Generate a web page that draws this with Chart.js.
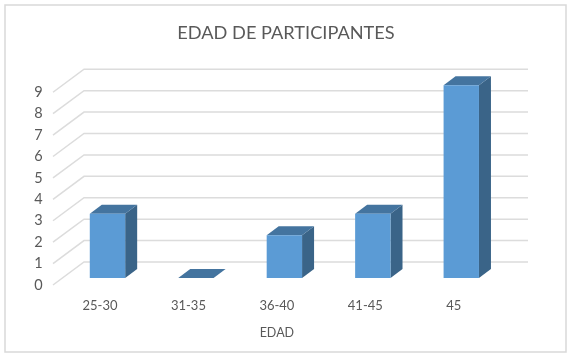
<!DOCTYPE html>
<html><head><meta charset="utf-8">
<style>html,body{margin:0;padding:0;background:#fff}canvas{display:block}</style>
<script src="https://cdn.jsdelivr.net/npm/chart.js@4"></script></head>
<body><canvas id="c" width="572" height="356"></canvas>
<script>
const categories = ['25-30','31-35','36-40','41-45','45'];
const participantes = [3,0,2,3,9];
const yTicks = [0,1,2,3,4,5,6,7,8,9];
const titleText = 'EDAD DE PARTICIPANTES';
const xTitle = 'EDAD';

const FLOOR_DX = 7.5, FLOOR_DY = 7;
const BAR_DX = 12, BAR_DY = 9;
const BACK_DX = 31, BACK_DY = 23;

const threeD = {
  id:'threeD',
  beforeDraw(chart){
    const c = chart.ctx; c.save();
    c.fillStyle='#fff'; c.fillRect(0,0,572,356);
    c.strokeStyle='#d9d9d9'; c.lineWidth=1.5;
    c.strokeRect(5,5,561,347);
    c.restore();
  },
  beforeDatasetsDraw(chart){
    const c = chart.ctx, y = chart.scales.y, a = chart.chartArea;
    c.save();
    c.strokeStyle='#dcdcdc'; c.lineWidth=1.5;
    const x0 = a.left-2.75, x1 = x0+BACK_DX, x2 = 528;
    yTicks.forEach(v=>{
      const p = y.getPixelForValue(v);
      c.beginPath(); c.moveTo(x0,p); c.lineTo(x1,p-BACK_DY); c.lineTo(x2,p-BACK_DY); c.stroke();
    });
    c.restore();
    c.save(); c.translate(FLOOR_DX,-FLOOR_DY);
    chart.getDatasetMeta(0).data.forEach(b=>{
      const l=b.x-b.width/2, r=b.x+b.width/2, t=b.y, bt=b.base;
      if (bt-t>0.5){
        c.fillStyle='#3a6488';
        c.beginPath(); c.moveTo(r,t); c.lineTo(r+BAR_DX,t-BAR_DY); c.lineTo(r+BAR_DX,bt-BAR_DY); c.lineTo(r,bt); c.closePath(); c.fill();
      }
      c.fillStyle='#44749f';
      c.beginPath(); c.moveTo(l,t); c.lineTo(l+BAR_DX,t-BAR_DY); c.lineTo(r+BAR_DX,t-BAR_DY); c.lineTo(r,t); c.closePath(); c.fill();
    });
    c.restore();
  },
  beforeDatasetDraw(chart){ chart.ctx.save(); chart.ctx.translate(FLOOR_DX,-FLOOR_DY); },
  afterDatasetDraw(chart){ chart.ctx.restore(); }
};

new Chart(document.getElementById('c'),{
  type:'bar',
  data:{labels:categories,datasets:[{data:participantes,backgroundColor:'#5b9bd5',borderWidth:0,barPercentage:0.4,categoryPercentage:1,clip:false}]},
  options:{
    responsive:false,animation:false,
    layout:{padding:{left:0,right:0,top:0,bottom:16}},
    plugins:{
      legend:{display:false},tooltip:{enabled:false},
      title:{display:true,text:titleText,color:'#595959',font:{family:'Lato',size:18.2,weight:'normal'},padding:{top:22,bottom:48.4}}
    },
    scales:{
      x:{grid:{display:false},border:{display:false},
        ticks:{color:'#595959',font:{family:'Lato',size:13},padding:5,maxRotation:0},
        title:{display:true,text:xTitle,color:'#595959',font:{family:'Lato',size:12.5},padding:{top:6,bottom:0}},
        afterFit(s){s.height=55;}
      },
      y:{min:0,max:9,grid:{display:false},border:{display:false},
        ticks:{stepSize:1,color:'#595959',font:{family:'Lato',size:14.5},padding:5},
        afterFit(s){s.width=55.75;}
      },
      spacer:{position:'right',min:0,max:9,grid:{display:false},border:{display:false},
        ticks:{display:false},
        afterFit(s){s.width=74;}
      }
    }
  },
  plugins:[threeD]
});
</script></body></html>
